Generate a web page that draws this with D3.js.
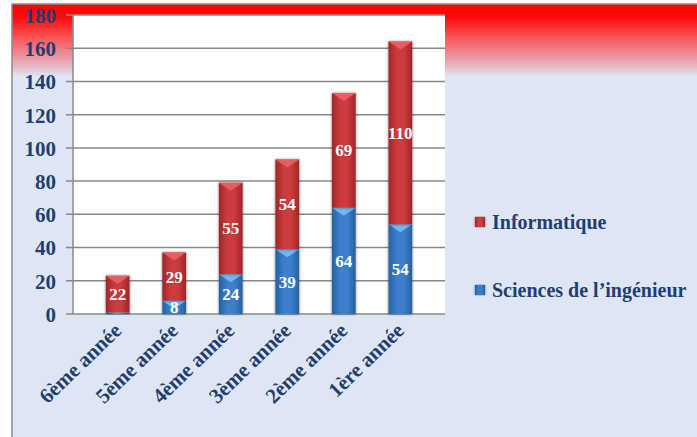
<!DOCTYPE html>
<html>
<head>
<meta charset="utf-8">
<script src="https://cdn.jsdelivr.net/npm/d3@7"></script>
<style>
  body { margin: 0; background: #fff; }
  svg { display: block; }
  svg text { font-family: 'Liberation Serif', 'Times New Roman', serif; font-weight: bold; }
  .tick text { fill: #1f3f73; }
</style>
</head>
<body>
<svg width="697" height="437"></svg>
<script>
"use strict";

// data
const categories = ['6ème année', '5ème année', '4ème année', '3ème année', '2ème année', '1ère année'];
const sciences = [1, 8, 24, 39, 64, 54];
const informatique = [22, 29, 55, 54, 69, 110];
const seriesNames = ['Sciences de l’ingénieur', 'Informatique'];
const yTicks = [0, 20, 40, 60, 80, 100, 120, 140, 160, 180];

const svg = d3.select('svg');
const defs = svg.append('defs');

// background
const bg = defs.append('linearGradient').attr('id', 'bgGrad')
    .attr('x1', 0).attr('y1', 0).attr('x2', 0).attr('y2', 1);
bg.append('stop').attr('offset', '0%').attr('stop-color', '#ff0000');
bg.append('stop').attr('offset', '3%').attr('stop-color', '#ff0a0a');
bg.append('stop').attr('offset', '8%').attr('stop-color', '#f55a5e');
bg.append('stop').attr('offset', '13%').attr('stop-color', '#e8a4b0');
bg.append('stop').attr('offset', '16.5%').attr('stop-color', '#dee6f3');
bg.append('stop').attr('offset', '100%').attr('stop-color', '#dee6f3');

svg.append('rect')
    .attr('x', 12).attr('y', 4)
    .attr('width', 697).attr('height', 440)
    .attr('fill', 'url(#bgGrad)')
    .attr('stroke', '#8a8a8a').attr('stroke-width', 1.5);

// bar gradients
function barGrad(id, edge, mid) {
    const g = defs.append('linearGradient').attr('id', id)
        .attr('x1', 0).attr('y1', 0).attr('x2', 1).attr('y2', 0);
    g.append('stop').attr('offset', '0%').attr('stop-color', edge);
    g.append('stop').attr('offset', '35%').attr('stop-color', mid);
    g.append('stop').attr('offset', '65%').attr('stop-color', mid);
    g.append('stop').attr('offset', '100%').attr('stop-color', edge);
}
barGrad('gradInfo', '#9e2628', '#cc3b3d');
barGrad('gradSci', '#275f9e', '#3c7fcc');

const shadow = defs.append('filter').attr('id', 'shadow')
    .attr('x', '-30%').attr('y', '-10%').attr('width', '160%').attr('height', '120%');
shadow.append('feGaussianBlur').attr('in', 'SourceAlpha').attr('stdDeviation', 1.5);
shadow.append('feComponentTransfer').append('feFuncA').attr('type', 'linear').attr('slope', 0.5);
const merge = shadow.append('feMerge');
merge.append('feMergeNode');
merge.append('feMergeNode').attr('in', 'SourceGraphic');

const plotLeft = 73, plotRight = 445, plotTop = 15, plotBottom = 314;

const x = d3.scaleBand()
    .domain(categories)
    .range([plotLeft, plotRight])
    .padding(0.58);

const y = d3.scaleLinear()
    .domain([0, 180])
    .range([plotBottom, plotTop]);

// plot area
svg.append('rect')
    .attr('x', plotLeft).attr('y', plotTop)
    .attr('width', plotRight - plotLeft).attr('height', plotBottom - plotTop)
    .attr('fill', '#ffffff');

// grid
svg.append('g')
    .selectAll('line')
    .data(yTicks)
    .join('line')
    .attr('x1', plotLeft - 7).attr('x2', plotRight)
    .attr('y1', d => y(d)).attr('y2', d => y(d))
    .attr('stroke', '#888888').attr('stroke-width', 1.5);

svg.append('line')
    .attr('x1', plotLeft).attr('x2', plotLeft)
    .attr('y1', plotTop).attr('y2', plotBottom)
    .attr('stroke', '#888888').attr('stroke-width', 1.5);

// y axis labels
const yAxis = svg.append('g')
    .attr('transform', `translate(${plotLeft - 7}, 0)`)
    .call(d3.axisLeft(y).tickValues(yTicks).tickSize(0).tickPadding(10));
yAxis.select('.domain').remove();
yAxis.attr('font-family', null);
yAxis.selectAll('text').style('font-size', '21px').attr('dy', '0.35em');

// stacked data
const rows = categories.map((c, i) => ({ cat: c, sci: sciences[i], info: informatique[i] }));
const stack = d3.stack().keys(['sci', 'info'])(rows);
const fills = { sci: 'url(#gradSci)', info: 'url(#gradInfo)' };
const bevel = { sci: '#72c0f6', info: '#ea6266' };

const layers = svg.append('g').selectAll('g')
    .data(stack)
    .join('g');

layers.selectAll('rect')
    .data(s => s.map(d => Object.assign({ key: s.key }, d)))
    .join('rect')
    .attr('x', d => x(d.data.cat))
    .attr('y', d => y(d[1]))
    .attr('width', x.bandwidth())
    .attr('height', d => y(d[0]) - y(d[1]))
    .attr('fill', d => fills[d.key])
    .attr('filter', 'url(#shadow)');

// top bevel
layers.selectAll('path')
    .data(s => s.map(d => Object.assign({ key: s.key }, d)))
    .join('path')
    .attr('d', d => {
        const x0 = x(d.data.cat), w = x.bandwidth(), y0 = y(d[1]);
        const h = Math.min(8, y(d[0]) - y(d[1]));
        return `M${x0},${y0}L${x0 + w},${y0}L${x0 + w / 2},${y0 + h}Z`;
    })
    .attr('fill', d => bevel[d.key])
    .attr('opacity', 0.9);

// value labels
layers.selectAll('text')
    .data(s => s.map(d => Object.assign({ key: s.key }, d)).filter(d => d[1] - d[0] >= 5))
    .join('text')
    .attr('x', d => x(d.data.cat) + x.bandwidth() / 2)
    .attr('y', d => Math.min((y(d[0]) + y(d[1])) / 2 + 6, y(d[0]) + 9))
    .attr('text-anchor', 'middle')
    .style('font-size', '17px')
    .attr('fill', '#ffffff')
    .text(d => d[1] - d[0]);

// x labels
svg.append('g')
    .selectAll('text')
    .data(categories)
    .join('text')
    .attr('transform', d => `translate(${x(d) + x.bandwidth() / 2 + 5}, ${plotBottom + 18}) rotate(-44)`)
    .attr('text-anchor', 'end')
    .style('font-size', '21px')
    .attr('fill', '#1f3f73')
    .text(d => d);

// legend
const legendItems = [
    { name: seriesNames[1], key: 'info', y: 222 },
    { name: seriesNames[0], key: 'sci', y: 290 }
];
const legend = svg.append('g').selectAll('g')
    .data(legendItems)
    .join('g')
    .attr('transform', d => `translate(475, ${d.y})`);

legend.append('rect')
    .attr('x', 0).attr('y', -5)
    .attr('width', 10).attr('height', 10)
    .attr('fill', d => fills[d.key])
    .attr('filter', 'url(#shadow)');

legend.append('text')
    .attr('x', 17).attr('y', 0).attr('dy', '0.35em')
    .style('font-size', '20px')
    .attr('fill', '#1f3f73')
    .text(d => d.name);
</script>
</body>
</html>
